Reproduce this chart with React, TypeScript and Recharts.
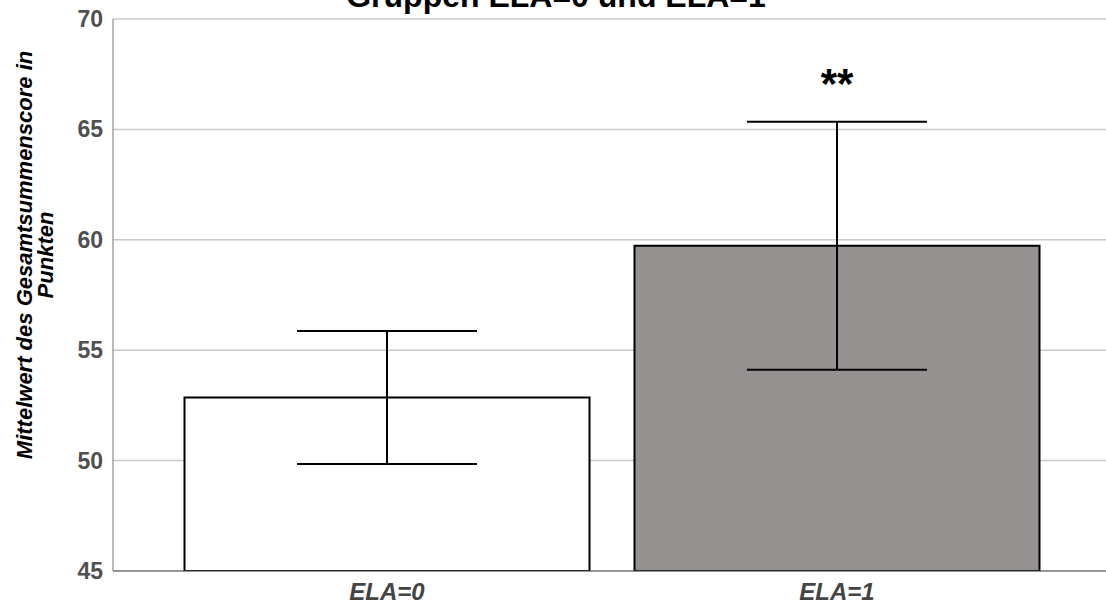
import { Bar, BarChart, CartesianGrid, Cell, ErrorBar, LabelList, XAxis, YAxis } from 'recharts';

// Gruppenmittelwerte mit Standardfehler
const groups = ['ELA=0', 'ELA=1'];
const means = [52.86, 59.73];
const errors = [3.01, 5.62];
const significance = ['', '**'];
const fills = ['#ffffff', '#959190'];
const yTicks = [45, 50, 55, 60, 65, 70];

const Y_MIN = 45;
const FONT = '"Liberation Sans", Arial, Helvetica, sans-serif';

const data = groups.map((g, i) => ({
  group: g,
  mean: means[i],
  err: errors[i],
  sig: significance[i],
}));

// Sternchen über dem oberen Ende des Fehlerbalkens
const SigLabel = (props: any) => {
  const { x, y, width, height, index, value } = props;
  if (!value) return null;
  const pxPerUnit = height / (means[index] - Y_MIN);
  const errTop = y - errors[index] * pxPerUnit;
  return (
    <text
      x={x + width / 2}
      y={errTop - 24}
      textAnchor="middle"
      style={{ fontFamily: FONT, fontWeight: 'bold', fontSize: 42 }}
      fill="#000"
    >
      {value}
    </text>
  );
};

const XTick = (props: any) => {
  const { x, y, payload } = props;
  return (
    <text
      x={x}
      y={y + 27}
      textAnchor="middle"
      fill="#444"
      style={{ fontFamily: FONT, fontWeight: 'bold', fontStyle: 'italic', fontSize: 24 }}
    >
      {payload.value}
    </text>
  );
};

const YTick = (props: any) => {
  const { x, y, payload } = props;
  return (
    <text
      x={x - 8}
      y={y + 8}
      textAnchor="end"
      fill="#505050"
      style={{ fontFamily: FONT, fontWeight: 'bold', fontSize: 23 }}
    >
      {payload.value}
    </text>
  );
};

const YTitle = (props: any) => {
  const { viewBox } = props;
  const cy = viewBox.y + viewBox.height / 2 - 40;
  const style = { fontFamily: FONT, fontWeight: 'bold' as const, fontStyle: 'italic' as const, fontSize: 22 };
  return (
    <g>
      <text transform={`translate(32, ${cy}) rotate(-90)`} textAnchor="middle" fill="#000" style={style}>
        Mittelwert des Gesamtsummenscore in
      </text>
      <text transform={`translate(53, ${cy}) rotate(-90)`} textAnchor="middle" fill="#000" style={style}>
        Punkten
      </text>
    </g>
  );
};

export default function App() {
  return (
    <div
      style={{
        position: 'absolute',
        left: 0,
        top: 0,
        width: 1106,
        height: 604,
        overflow: 'hidden',
        background: '#fff',
      }}
    >
      <div
        style={{
          position: 'absolute',
          left: 0,
          width: 1112,
          top: -20,
          lineHeight: '32px',
          textAlign: 'center',
          fontFamily: FONT,
          fontWeight: 'bold',
          fontSize: 32,
          color: '#000',
        }}
      >
        Gruppen ELA=0 und ELA=1
      </div>
      <BarChart
        width={1106}
        height={604}
        data={data}
        margin={{ top: 19, right: 0, left: 0, bottom: 0 }}
        barCategoryGap="5%"
      >
        <CartesianGrid vertical={false} stroke="#c8c8c8" strokeWidth={1.5} />
        <XAxis
          dataKey="group"
          height={33}
          padding={{ left: 49, right: 44 }}
          axisLine={{ stroke: '#555', strokeWidth: 1 }}
          tickLine={false}
          tickSize={0}
          tick={<XTick />}
        />
        <YAxis
          width={113}
          domain={[Y_MIN, 70]}
          ticks={yTicks}
          allowDataOverflow
          axisLine={{ stroke: '#777', strokeWidth: 1 }}
          tickLine={false}
          tickSize={0}
          tick={<YTick />}
          label={<YTitle />}
        />
        <Bar dataKey="mean" stroke="#000" strokeWidth={2} isAnimationActive={false}>
          {data.map((d, i) => (
            <Cell key={d.group} fill={fills[i]} />
          ))}
          <ErrorBar dataKey="err" width={90} stroke="#000" strokeWidth={2} direction="y" />
          <LabelList dataKey="sig" content={<SigLabel />} />
        </Bar>
      </BarChart>
    </div>
  );
}
